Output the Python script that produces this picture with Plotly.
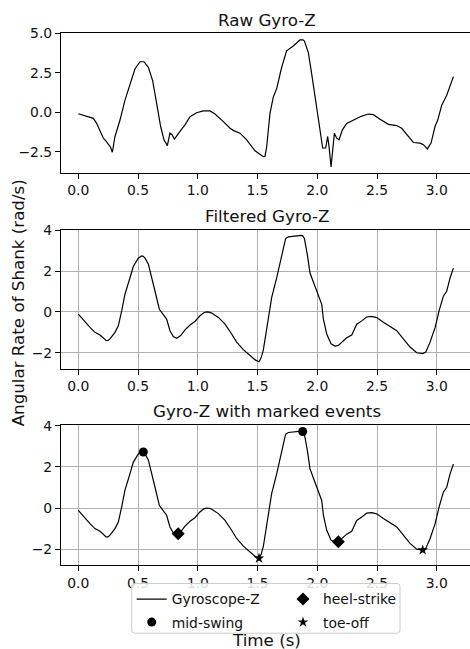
import plotly.graph_objects as go

# ---- raw gyroscope Z signal (s, rad/s)
raw_t = [0.000, 0.060, 0.126, 0.153, 0.180, 0.209, 0.230, 0.251, 0.270, 0.285,
         0.307, 0.330, 0.349, 0.390, 0.432, 0.474, 0.516, 0.550, 0.586, 0.622,
         0.656, 0.689, 0.717, 0.745, 0.767, 0.784, 0.804, 0.837, 0.860, 0.893,
         0.935, 0.990, 1.046, 1.102, 1.144, 1.214, 1.270, 1.300, 1.353, 1.409,
         1.479, 1.520, 1.548, 1.562, 1.576, 1.604, 1.632, 1.660, 1.702, 1.743,
         1.799, 1.855, 1.880, 1.892, 1.925, 1.953, 1.981, 2.015, 2.045, 2.070,
         2.087, 2.098, 2.115, 2.143, 2.162, 2.182, 2.210, 2.246, 2.288, 2.316,
         2.372, 2.427, 2.469, 2.525, 2.595, 2.665, 2.706, 2.762, 2.804, 2.860,
         2.888, 2.921, 2.952, 2.985, 3.008, 3.041, 3.083, 3.139]
raw_v = [-0.08, -0.20, -0.37, -0.69, -1.10, -1.62, -1.80, -2.04, -2.20, -2.52,
         -1.52, -0.95, -0.48, 0.77, 1.81, 2.75, 3.21, 3.21, 2.86, 2.02,
         0.56, -0.89, -1.73, -2.10, -1.31, -1.41, -1.69, -1.31, -1.10, -0.79,
         -0.27, -0.02, 0.10, 0.10, -0.10, -0.58, -1.00, -1.15, -1.31, -1.73,
         -2.43, -2.65, -2.80, -2.78, -2.20, -0.06, 0.98, 1.51, 2.86, 3.90,
         4.21, 4.59, 4.60, 4.52, 3.79, 2.44, 0.98, -0.69, -2.25, -2.25,
         -1.52, -2.15, -3.45, -1.31, -1.63, -1.73, -1.10, -0.69, -0.52, -0.43,
         -0.23, -0.10, -0.14, -0.43, -0.75, -0.83, -1.00, -1.52, -1.90, -1.94,
         -2.04, -2.31, -1.94, -0.89, -0.48, 0.46, 1.09, 2.27]

# ---- low-pass filtered gyroscope Z signal
filt_t = [0.000, 0.056, 0.098, 0.139, 0.181, 0.205, 0.232, 0.250, 0.265, 0.307,
          0.335, 0.363, 0.390, 0.432, 0.460, 0.502, 0.530, 0.544, 0.558, 0.586,
          0.614, 0.642, 0.678, 0.711, 0.739, 0.767, 0.795, 0.823, 0.836, 0.857,
          0.893, 0.935, 0.976, 1.018, 1.050, 1.074, 1.095, 1.116, 1.172, 1.228,
          1.283, 1.325, 1.381, 1.437, 1.480, 1.512, 1.530, 1.548, 1.585, 1.618,
          1.660, 1.696, 1.735, 1.758, 1.813, 1.864, 1.878, 1.892, 1.917, 1.939,
          1.975, 2.009, 2.037, 2.051, 2.079, 2.115, 2.148, 2.176, 2.204, 2.246,
          2.288, 2.330, 2.372, 2.413, 2.455, 2.497, 2.553, 2.609, 2.665, 2.720,
          2.776, 2.832, 2.874, 2.882, 2.908, 2.944, 2.986, 3.019, 3.055, 3.083,
          3.111, 3.139]
filt_v = [-0.11, -0.51, -0.76, -1.00, -1.13, -1.25, -1.40, -1.40, -1.32, -1.00,
          -0.68, 0.05, 0.86, 1.66, 2.22, 2.63, 2.74, 2.72, 2.63, 2.34,
          1.74, 1.01, 0.13, -0.11, -0.35, -0.92, -1.21, -1.29, -1.25, -1.16,
          -0.88, -0.64, -0.47, -0.19, -0.04, 0.00, -0.01, -0.06, -0.27, -0.60,
          -1.08, -1.48, -1.85, -2.16, -2.35, -2.44, -2.25, -1.88, -0.60, 0.70,
          1.66, 2.63, 3.59, 3.67, 3.71, 3.74, 3.72, 3.59, 2.79, 1.90,
          1.34, 0.77, 0.37, -0.35, -1.08, -1.56, -1.67, -1.64, -1.48, -1.27,
          -1.13, -0.60, -0.44, -0.25, -0.22, -0.28, -0.51, -0.72, -0.92, -1.32,
          -1.72, -2.00, -2.04, -2.04, -1.96, -1.48, -0.76, 0.05, 0.77, 1.01,
          1.66, 2.14]

# ---- detected gait events
mid_swing_t = [0.544, 1.878]
mid_swing_v = [2.72, 3.72]
heel_strike_t = [0.836, 2.176]
heel_strike_v = [-1.25, -1.64]
toe_off_t = [1.512, 2.882]
toe_off_v = [-2.44, -2.04]

W, H = 470, 649
ML = 61
PW = W - ML
FONT = "DejaVu Sans"
INK = "#111111"


def px_x(px):
    return (px - ML) / PW


def px_y(py):
    return 1 - py / H


line_style = dict(color="black", width=1.2)

fig = go.Figure()
fig.add_trace(go.Scatter(x=raw_t, y=raw_v, mode="lines", line=line_style,
                         xaxis="x", yaxis="y", showlegend=False))
fig.add_trace(go.Scatter(x=filt_t, y=filt_v, mode="lines", line=line_style,
                         xaxis="x2", yaxis="y2", showlegend=False))
fig.add_trace(go.Scatter(x=filt_t, y=filt_v, mode="lines", line=line_style,
                         xaxis="x3", yaxis="y3", name="Gyroscope-Z",
                         legend="legend", legendgroup="a"))
fig.add_trace(go.Scatter(x=mid_swing_t, y=mid_swing_v, mode="markers",
                         marker=dict(symbol="circle", size=9, color="black"),
                         xaxis="x3", yaxis="y3", name="mid-swing",
                         legend="legend", legendgroup="b"))
fig.add_trace(go.Scatter(x=heel_strike_t, y=heel_strike_v, mode="markers",
                         marker=dict(symbol="diamond", size=10, color="black"),
                         xaxis="x3", yaxis="y3", name="heel-strike",
                         legend="legend2", legendgroup="c"))
fig.add_trace(go.Scatter(x=toe_off_t, y=toe_off_v, mode="markers",
                         marker=dict(symbol="star", size=8, color="black"),
                         xaxis="x3", yaxis="y3", name="toe-off",
                         legend="legend2", legendgroup="d"))

tick_font = dict(family=FONT, size=13.9, color=INK)
x_range = [(ML - 78.3) / 119.5, (W - 78.3) / 119.5]

# vertical extents of the three panels (pixels from top)
panels = [(25.7, 166.7), (224.3, 365.0), (422.3, 564.0)]
y_ranges = [[-3.81, 5.005], [-2.77, 4.03], [-2.77, 4.03]]
y_ticks = [[-2.5, 0.0, 2.5, 5.0], [-2, 0, 2, 4], [-2, 0, 2, 4]]
y_fmt = [".1f", "d", "d"]
grid_on = [False, True, True]

layout = dict(
    width=W, height=H, autosize=False,
    margin=dict(l=ML, r=0, t=0, b=0, pad=0),
    paper_bgcolor="white", plot_bgcolor="white",
    font=dict(family=FONT, color=INK),
)

for i, ((top, bot), yr, yt, yf, g) in enumerate(
        zip(panels, y_ranges, y_ticks, y_fmt, grid_on)):
    sfx = "" if i == 0 else str(i + 1)
    layout["xaxis" + sfx] = dict(
        domain=[0, 1], anchor="y" + sfx, range=x_range,
        tick0=0, dtick=0.5, tickformat=".1f",
        showline=True, mirror=True, linecolor="black", linewidth=1.1,
        ticks="outside", ticklen=5, tickwidth=1.1, tickcolor="black",
        showgrid=g, gridcolor="#b0b0b0", gridwidth=1.1,
        zeroline=False, tickfont=tick_font,
    )
    layout["yaxis" + sfx] = dict(
        domain=[px_y(bot), px_y(top)], anchor="x" + sfx, range=yr,
        tickvals=yt, tickformat=yf,
        showline=True, mirror=False, linecolor="black", linewidth=1.1,
        ticks="outside", ticklen=5, tickwidth=1.1, tickcolor="black",
        showgrid=g, gridcolor="#b0b0b0", gridwidth=1.1,
        zeroline=False, tickfont=tick_font,
    )

title_font = dict(family=FONT, size=16.7, color=INK)
titles = ["Raw Gyro-Z", "Filtered Gyro-Z", "Gyro-Z with marked events"]
annotations = []
for (top, _), txt in zip(panels, titles):
    annotations.append(dict(text=txt, xref="paper", yref="paper",
                            x=px_x(266.8), y=px_y(top - 14),
                            xanchor="center", yanchor="middle",
                            showarrow=False, font=title_font))
annotations.append(dict(text="Time (s)", xref="paper", yref="paper",
                        x=px_x(266.8), y=px_y(639.5), xanchor="center",
                        yanchor="middle", showarrow=False, font=title_font))
annotations.append(dict(text="Angular Rate of Shank (rad/s)", xref="paper",
                        yref="paper", x=px_x(18), y=px_y(299),
                        xanchor="center", yanchor="middle", textangle=-90,
                        showarrow=False, font=title_font))
layout["annotations"] = annotations

# legend frame (rounded box) shared by the two legend columns
bx0, bx1, by0, by1 = 131.7, 400.0, 582.7, 633.0
r = 3.0
rx, ry = r / PW, r / H
X0, X1, Y0, Y1 = px_x(bx0), px_x(bx1), px_y(by1), px_y(by0)
path = (f"M {X0+rx},{Y1} L {X1-rx},{Y1} Q {X1},{Y1} {X1},{Y1-ry} "
        f"L {X1},{Y0+ry} Q {X1},{Y0} {X1-rx},{Y0} L {X0+rx},{Y0} "
        f"Q {X0},{Y0} {X0},{Y0+ry} L {X0},{Y1-ry} Q {X0},{Y1} {X0+rx},{Y1} Z")
layout["shapes"] = [dict(type="path", path=path, xref="paper", yref="paper",
                         fillcolor="rgba(255,255,255,0.85)",
                         line=dict(color="#cccccc", width=1), layer="above")]

legend_font = dict(family=FONT, size=13.9, color=INK)
common = dict(bgcolor="rgba(0,0,0,0)", borderwidth=0, font=legend_font,
              xanchor="left", yanchor="top", orientation="v",
              tracegroupgap=2, itemsizing="trace")
layout["legend"] = dict(x=px_x(bx0), y=px_y(by0), **common)
layout["legend2"] = dict(x=px_x(283), y=px_y(by0), **common)

fig.update_layout(**layout)
fig.write_html("out.html")
